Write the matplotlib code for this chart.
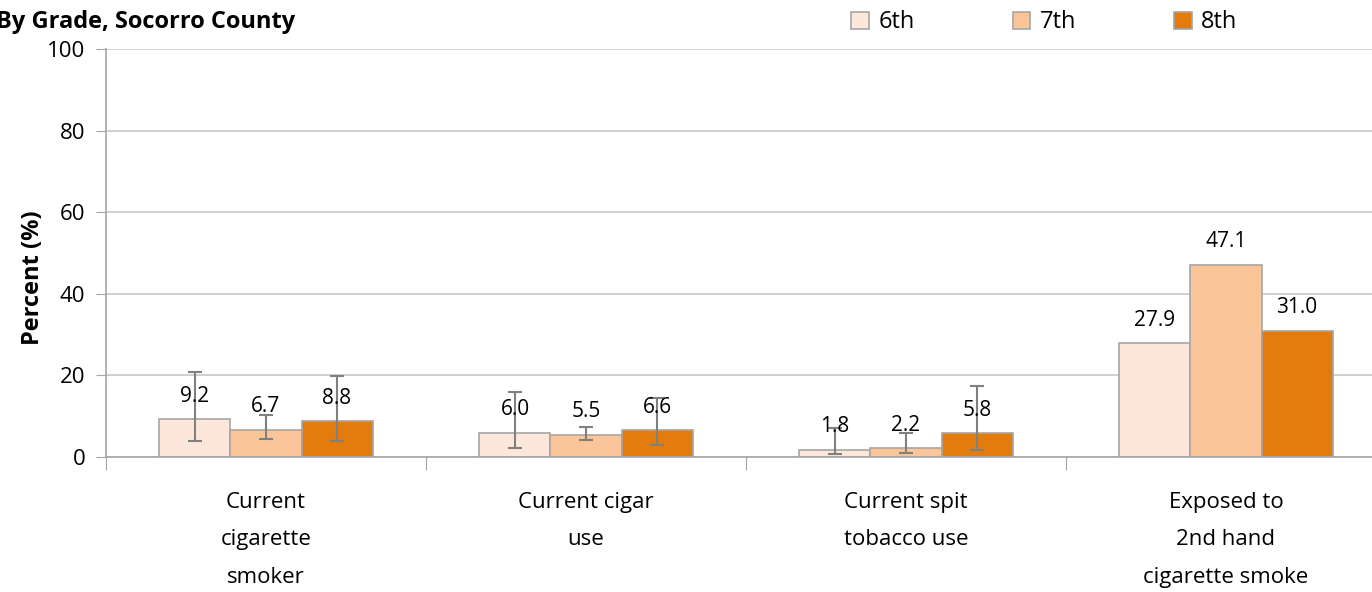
import numpy as np
import matplotlib.pyplot as plt

plt.rcParams['font.family'] = ['Open Sans', 'DejaVu Sans']

categories = ['Current\ncigarette\nsmoker', 'Current cigar\nuse',
              'Current spit\ntobacco use', 'Exposed to\n2nd hand\ncigarette smoke']
grades = ['6th', '7th', '8th']
values = {
    '6th': [9.2, 6.0, 1.8, 27.9],
    '7th': [6.7, 5.5, 2.2, 47.1],
    '8th': [8.8, 6.6, 5.8, 31.0],
}
# confidence interval bounds (none shown for the last category)
ci_low = {
    '6th': [3.9, 2.2, 0.7, np.nan],
    '7th': [4.4, 4.2, 1.0, np.nan],
    '8th': [3.9, 2.9, 1.7, np.nan],
}
ci_high = {
    '6th': [20.8, 15.9, 7.1, np.nan],
    '7th': [10.3, 7.4, 5.9, np.nan],
    '8th': [19.8, 14.5, 17.4, np.nan],
}
colors = {'6th': '#FDE7DA', '7th': '#FBC59A', '8th': '#E37C0C'}

fig = plt.figure(figsize=(13.72, 5.92), dpi=100)
ax = fig.add_axes([106 / 1372, 135 / 592, 1280 / 1372, 408 / 592])

x = np.arange(len(categories))
w = 0.222
for i, g in enumerate(grades):
    pos = x + (i - 1) * w
    v = np.array(values[g])
    ax.bar(pos, v, w, color=colors[g], edgecolor='#A6A6A6', linewidth=1.2,
           label=g, zorder=2)
    lo = v - np.array(ci_low[g])
    hi = np.array(ci_high[g]) - v
    ax.errorbar(pos, v, yerr=[lo, hi], fmt='none', ecolor='#808080',
                elinewidth=1.5, capsize=5, capthick=1.5, zorder=3)
    for p, val in zip(pos, v):
        ax.annotate(f'{val:.1f}', (p, val), xytext=(0, 9), textcoords='offset points',
                    ha='center', va='bottom', fontsize=15, zorder=4)

ax.set_xlim(-0.5, len(categories) - 0.5)
ax.set_ylim(0, 100)
ax.set_yticks(range(0, 101, 20))
ax.set_xticks(np.arange(-0.5, len(categories), 1.0))
ax.set_xticklabels([])
ax.tick_params(axis='x', length=9, color='#A6A6A6', direction='out')
ax.tick_params(axis='y', length=7, color='#A6A6A6', direction='out', labelsize=16, pad=8)
ax.grid(axis='y', color='#C8C8C8', linewidth=1.2, zorder=0)
ax.set_axisbelow(True)
for s in ['top', 'right']:
    ax.spines[s].set_visible(False)
for s in ['left', 'bottom']:
    ax.spines[s].set_color('#A6A6A6')
    ax.spines[s].set_linewidth(1.2)

for xi, lab in zip(x, categories):
    ax.text(xi, -8.5, lab, ha='center', va='top', fontsize=16, linespacing=2.05)

ax.set_ylabel('Percent (%)', fontsize=17, fontweight='bold')
ax.yaxis.set_label_coords(-0.048, 0.44)

fig.text(-0.003, 0.962, 'By Grade, Socorro County', fontsize=17, fontweight='bold',
         ha='left', va='center')

fig.legend(loc='center left', bbox_to_anchor=(0.605, 0.962), ncol=3, frameon=False,
           fontsize=17, handlelength=0.75, handleheight=0.75, columnspacing=4.15,
           handletextpad=0.4)

fig.savefig('out.png', dpi=100)
